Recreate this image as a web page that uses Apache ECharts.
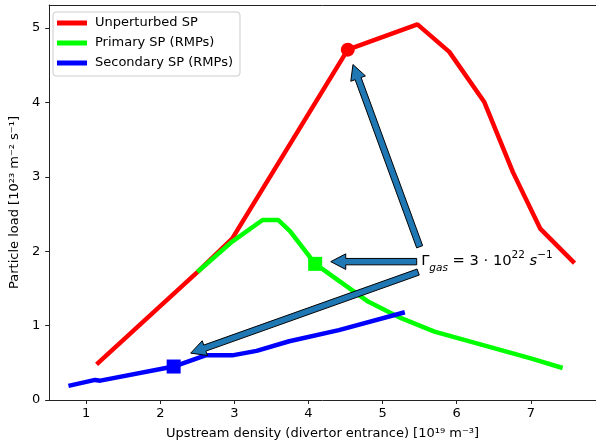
<!DOCTYPE html>
<html>
<head>
<meta charset="utf-8">
<script src="https://cdn.jsdelivr.net/npm/echarts@6/dist/echarts.min.js"></script>
<style>html,body{margin:0;padding:0;background:#fff;}#c{width:596px;height:445px;}</style>
</head>
<body>
<div id="c"></div>
<script>
// ---- data ----
const seriesNames = ['Unperturbed SP', 'Primary SP (RMPs)', 'Secondary SP (RMPs)'];
const xRed = [1.14, 2.50, 2.97, 4.53, 5.47, 5.90, 6.37, 6.76, 7.13, 7.59];
const yRed = [0.48, 1.72, 2.17, 4.71, 5.05, 4.68, 4.01, 3.06, 2.30, 1.84];
const xGreen = [2.50, 2.97, 3.38, 3.59, 3.75, 4.09, 4.81, 5.25, 5.70, 7.00, 7.43];
const yGreen = [1.72, 2.13, 2.42, 2.42, 2.27, 1.83, 1.32, 1.10, 0.92, 0.56, 0.43];
const xBlue = [0.76, 1.12, 1.19, 2.18, 2.61, 2.97, 3.30, 3.74, 4.41, 5.30];
const yBlue = [0.19, 0.27, 0.26, 0.45, 0.60, 0.60, 0.66, 0.79, 0.94, 1.18];
// highlighted points (Gamma_gas = 3e22)
const markRed = [4.53, 4.71];
const markGreen = [4.09, 1.83];
const markBlue = [2.18, 0.45];
// annotation arrows: [tailX, tailY, tipX, tipY]
const arrows = [
  [5.50, 2.06, 4.60, 4.51],
  [5.46, 1.86, 4.30, 1.86],
  [5.48, 1.72, 2.41, 0.63]
];
const annotationPos = [5.52, 1.86];
const xTicks = [1, 2, 3, 4, 5, 6, 7];
const yTicks = [0, 1, 2, 3, 4, 5];

const zip = (xs, ys) => xs.map((x, i) => [x, ys[i]]);
const FONT = 'DejaVu Sans';
const XMIN = 0.5, XMAX = 7.88, YMIN = 0, YMAX = 5.31;

const chart = echarts.init(document.getElementById('c'), null, {renderer: 'canvas'});

function arrowItem(params, api) {
  const p1 = api.coord([api.value(0), api.value(1)]);
  const p2 = api.coord([api.value(2), api.value(3)]);
  const dx = p2[0] - p1[0], dy = p2[1] - p1[1];
  const L = Math.sqrt(dx * dx + dy * dy);
  const ux = dx / L, uy = dy / L;
  const nx = -uy, ny = ux;
  const w = 3.2, hw = 7.8, hl = 15;
  const bx = p2[0] - ux * hl, by = p2[1] - uy * hl;
  const pts = [
    [p1[0] + nx * w, p1[1] + ny * w],
    [bx + nx * w, by + ny * w],
    [bx + nx * hw, by + ny * hw],
    [p2[0], p2[1]],
    [bx - nx * hw, by - ny * hw],
    [bx - nx * w, by - ny * w],
    [p1[0] - nx * w, p1[1] - ny * w]
  ];
  return {
    type: 'polygon',
    shape: {points: pts},
    style: {fill: '#1f77b4', stroke: '#000', lineWidth: 1}
  };
}

function textItem(params, api) {
  const p = api.coord([api.value(0), api.value(1)]);
  return {
    type: 'text',
    x: p[0], y: p[1],
    style: {
      text: '{n|Γ}{sub|gas}{n| = 3 · 10}{sup|22}{it| s}{sup|−1}',
      align: 'left',
      verticalAlign: 'middle',
      fill: '#000',
      fontFamily: FONT,
      rich: {
        n: {fontSize: 14.7, fontFamily: FONT, lineHeight: 24, verticalAlign: 'middle', fill: '#000'},
        it: {fontSize: 14.7, fontFamily: FONT, fontStyle: 'italic', lineHeight: 24, verticalAlign: 'middle', fill: '#000'},
        sub: {fontSize: 10.5, fontFamily: FONT, fontStyle: 'italic', lineHeight: 17, verticalAlign: 'bottom', fill: '#000'},
        sup: {fontSize: 10.5, fontFamily: FONT, lineHeight: 12, verticalAlign: 'top', fill: '#000'}
      }
    }
  };
}

const option = {
  animation: false,
  backgroundColor: '#fff',
  textStyle: {fontFamily: FONT},
  grid: {left: 46, top: 5, bottom: 43, right: 0, show: false},
  legend: {
    data: seriesNames,
    orient: 'vertical',
    left: 53, top: 12,
    icon: 'rect',
    itemWidth: 30, itemHeight: 5,
    itemGap: 6,
    padding: [4, 7, 6, 4],
    backgroundColor: '#fff',
    borderColor: '#ccc', borderWidth: 1, borderRadius: 3,
    textStyle: {fontFamily: FONT, fontSize: 13, color: '#000', lineHeight: 14, padding: [0, 0, 0, 3]}
  },
  xAxis: [{
    type: 'value', min: XMIN, max: XMAX,
    name: 'Upstream density (divertor entrance) [10¹⁹ m⁻³]',
    nameLocation: 'middle', nameGap: 27,
    nameTextStyle: {fontFamily: FONT, fontSize: 13, color: '#000'},
    splitLine: {show: false},
    axisLine: {show: true, lineStyle: {color: '#222', width: 1}},
    axisTick: {show: true, length: 4, lineStyle: {color: '#222'}, customValues: xTicks},
    axisLabel: {fontFamily: FONT, fontSize: 13, color: '#000', margin: 7, customValues: xTicks}
  }, {
    type: 'value', min: XMIN, max: XMAX, position: 'top',
    splitLine: {show: false},
    axisLine: {show: true, lineStyle: {color: '#222', width: 1}},
    axisTick: {show: false},
    axisLabel: {show: false}
  }],
  yAxis: {
    type: 'value', min: YMIN, max: YMAX,
    name: 'Particle load [10²³ m⁻² s⁻¹]',
    nameLocation: 'middle', nameGap: 24,
    nameTextStyle: {fontFamily: FONT, fontSize: 13, color: '#000'},
    splitLine: {show: false},
    axisLine: {show: true, lineStyle: {color: '#222', width: 1}},
    axisTick: {show: true, length: 4, lineStyle: {color: '#222'}, customValues: yTicks},
    axisLabel: {fontFamily: FONT, fontSize: 13, color: '#000', margin: 9, customValues: yTicks}
  },
  series: [
    {name: seriesNames[0], type: 'line', data: zip(xRed, yRed), showSymbol: false, symbol: 'none',
     lineStyle: {color: '#ff0000', width: 4.5}, itemStyle: {color: '#ff0000'}, z: 2},
    {name: seriesNames[1], type: 'line', data: zip(xGreen, yGreen), showSymbol: false, symbol: 'none',
     lineStyle: {color: '#00ff00', width: 4.5}, itemStyle: {color: '#00ff00'}, z: 3},
    {name: seriesNames[2], type: 'line', data: zip(xBlue, yBlue), showSymbol: false, symbol: 'none',
     lineStyle: {color: '#0000ff', width: 4.5}, itemStyle: {color: '#0000ff'}, z: 4},
    {type: 'scatter', data: [markRed], symbol: 'circle', symbolSize: 14, itemStyle: {color: '#ff0000', opacity: 1}, z: 5},
    {type: 'scatter', data: [markGreen], symbol: 'rect', symbolSize: 14, itemStyle: {color: '#00ff00', opacity: 1}, z: 5},
    {type: 'scatter', data: [markBlue], symbol: 'rect', symbolSize: 14, itemStyle: {color: '#0000ff', opacity: 1}, z: 5},
    {type: 'custom', renderItem: arrowItem, data: arrows, z: 6, silent: true, clip: false},
    {type: 'custom', renderItem: textItem, data: [annotationPos], z: 7, silent: true, clip: false}
  ]
};
chart.setOption(option);
</script>
</body>
</html>
